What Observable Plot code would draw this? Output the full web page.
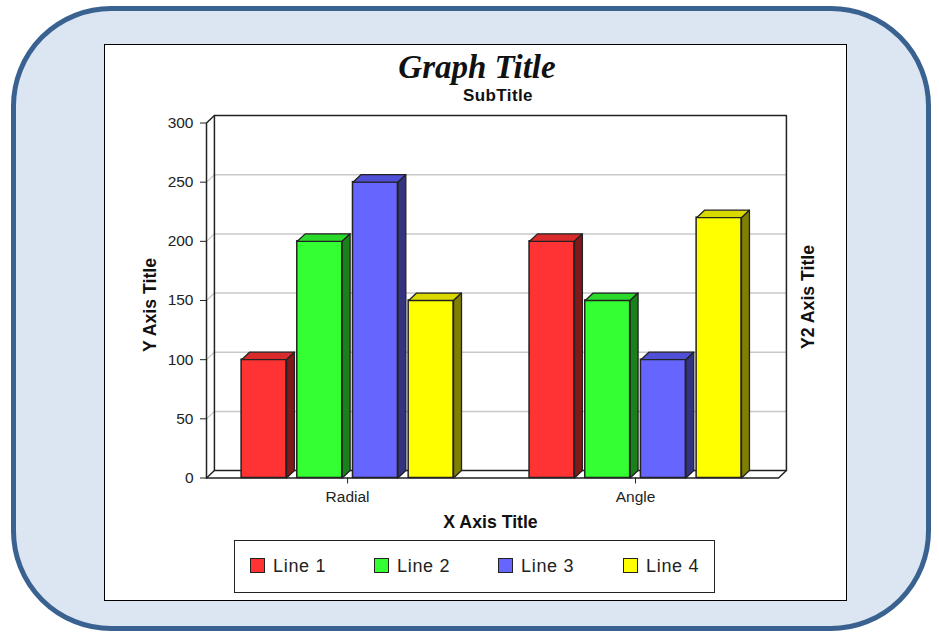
<!DOCTYPE html>
<html>
<head>
<meta charset="utf-8">
<script src="https://cdn.jsdelivr.net/npm/d3@7"></script>
<script src="https://cdn.jsdelivr.net/npm/@observablehq/plot@0.6"></script>
<style>
  html, body { margin: 0; padding: 0; background: #fff; }
  #page { position: relative; width: 939px; height: 633px; overflow: hidden; font-family: "Liberation Sans", Arial, sans-serif; }
  #outer { position: absolute; left: 11px; top: 6px; width: 910px; height: 615px; background: #dce6f2; border: 5px solid #3a6291; border-radius: 100px; }
  #box { position: absolute; left: 104px; top: 44px; width: 741px; height: 555px; background: #fff; border: 1.5px solid #000; }
  #chart { position: absolute; left: 0; top: 0; }
  #chart svg { background: transparent; }
  #title { position: absolute; left: 0; width: 954px; top: 48px; text-align: center; font: italic bold 33px "Liberation Serif", "Times New Roman", serif; color: #111; line-height: 38px; }
  #subtitle { position: absolute; left: 463px; top: 86px; font: bold 17px "Liberation Sans", Arial, sans-serif; color: #111; line-height: 20px; letter-spacing: 0.4px; }
  #legend { position: absolute; left: 234px; top: 540px; width: 479px; height: 51px; border: 1.5px solid #222; background: #fff; }
  .sw { position: absolute; top: 17px; width: 13px; height: 13px; border: 1.5px solid #222; }
  .lb { position: absolute; top: 15px; font-size: 18px; line-height: 21px; color: #222; letter-spacing: 0.7px; }
</style>
</head>
<body>
<div id="page">
  <div id="outer"></div>
  <div id="box"></div>
  <div id="chart"></div>
  <div id="title"></div>
  <div id="subtitle"></div>
  <div id="legend"></div>
</div>
<script>
const titleText = "Graph Title";
const subtitleText = "SubTitle";
const xAxisTitle = "X Axis Title";
const yAxisTitle = "Y Axis Title";
const y2AxisTitle = "Y2 Axis Title";

const categories = ["Radial", "Angle"];
const seriesNames = ["Line 1", "Line 2", "Line 3", "Line 4"];
const line1 = [100, 200];
const line2 = [200, 150];
const line3 = [250, 100];
const line4 = [150, 220];
const seriesValues = [line1, line2, line3, line4];
const frontColors = ["#ff3333", "#33ff33", "#6666ff", "#ffff00"];
const topColors = ["#d92b2b", "#2bd92b", "#5050d6", "#d9d900"];
const sideColors = ["#801a1a", "#1a801a", "#333380", "#808000"];
const yTicks = [0, 50, 100, 150, 200, 250, 300];

// Chart geometry in scale units
const xDomain = [-0.49, 1.4965];
const barStep = 0.1934;
const barWidth = 0.156;
const depthX = 0.0275;
const depthY = 6.3;

const bars = [];
categories.forEach((c, g) => {
  seriesNames.forEach((s, i) => {
    const centre = g + (i - 1.5) * barStep;
    bars.push({
      id: c + s, value: seriesValues[i][g],
      x1: centre - barWidth / 2, x2: centre + barWidth / 2,
      front: frontColors[i], top: topColors[i], side: sideColors[i]
    });
  });
});
const topFace = bars.flatMap(b => [
  {id: b.id, x: b.x1, y: b.value, c: b.top},
  {id: b.id, x: b.x2, y: b.value, c: b.top},
  {id: b.id, x: b.x2 + depthX, y: b.value + depthY, c: b.top},
  {id: b.id, x: b.x1 + depthX, y: b.value + depthY, c: b.top}
]);
const sideFace = bars.flatMap(b => [
  {id: b.id, x: b.x2, y: 0, c: b.side},
  {id: b.id, x: b.x2 + depthX, y: depthY, c: b.side},
  {id: b.id, x: b.x2 + depthX, y: b.value + depthY, c: b.side},
  {id: b.id, x: b.x2, y: b.value, c: b.side}
]);

const [x0, x1] = xDomain;
const yMax = yTicks[yTicks.length - 1];
const grid = yTicks.slice(1, -1);
const diagonals = yTicks.flatMap(t => [
  {id: t, x: x0, y: t}, {id: t, x: x0 + depthX, y: t + depthY}
]);
const frameDark = "#222";
const wallLines = [
  [[x0 + depthX, depthY], [x0 + depthX, yMax + depthY], [x1 + depthX, yMax + depthY], [x1 + depthX, depthY], [x0 + depthX, depthY]],
  [[x0, 0], [x1, 0], [x1 + depthX, depthY]],
  [[x0, 0], [x0, yMax], [x0 + depthX, yMax + depthY]],
  [[x0, 0], [x0 + depthX, depthY]]
].flatMap((pts, k) => pts.map(([x, y]) => ({id: k, x, y})));

const titleStyle = {text: d => d, fontSize: 17.7, fontWeight: "bold", fill: "#111", textAnchor: "middle", lineAnchor: "middle"};

const chart = Plot.plot({
  width: 939,
  height: 633,
  marginLeft: 206,
  marginRight: 161,
  marginTop: 122.5,
  marginBottom: 155.5,
  style: {fontFamily: "Liberation Sans, Arial, sans-serif", background: "transparent", color: "#222"},
  x: {domain: xDomain, axis: null},
  y: {domain: [0, yMax], axis: null},
  color: {type: "identity"},
  marks: [
    Plot.ruleY(grid, {y: d => d + depthY, x1: x0 + depthX, x2: x1 + depthX, stroke: "#c8c8c8", strokeWidth: 1.5}),
    Plot.line(diagonals.filter(d => d.id !== 0 && d.id !== yMax), {x: "x", y: "y", z: "id", stroke: "#c8c8c8", strokeWidth: 1.2}),
    Plot.line(wallLines, {x: "x", y: "y", z: "id", stroke: frameDark, strokeWidth: 1.5}),
    Plot.axisY({ticks: yTicks, tickSize: 6, tickPadding: 7, fontSize: 15.5, label: null}),
    Plot.axisX({ticks: [0, 1], tickSize: 6, tickPadding: 7, fontSize: 15.5, label: null, tickFormat: i => categories[i]}),
    Plot.text([yAxisTitle], {...titleStyle, frameAnchor: "left", rotate: -90, dx: -56.5, dy: 4.5}),
    Plot.text([y2AxisTitle], {...titleStyle, frameAnchor: "right", rotate: -90, dx: 30, dy: -3.5}),
    Plot.text([xAxisTitle], {...titleStyle, frameAnchor: "bottom", dx: -2, dy: 44.5}),
    Plot.rect(bars, {x1: "x1", x2: "x2", y1: 0, y2: "value", fill: "front", stroke: frameDark, strokeWidth: 1.5}),
    Plot.line(topFace, {x: "x", y: "y", z: "id", fill: "c", stroke: frameDark, strokeWidth: 1.3, curve: "linear-closed"}),
    Plot.line(sideFace, {x: "x", y: "y", z: "id", fill: "c", stroke: frameDark, strokeWidth: 1.3, curve: "linear-closed"})
  ]
});
document.getElementById("chart").appendChild(chart);

document.getElementById("title").textContent = titleText;
document.getElementById("subtitle").textContent = subtitleText;
const legend = document.getElementById("legend");
const legendLeft = [15, 139, 263, 388];
seriesNames.forEach((s, i) => {
  const sw = document.createElement("div");
  sw.className = "sw";
  sw.style.left = legendLeft[i] + "px";
  sw.style.background = frontColors[i];
  legend.appendChild(sw);
  const lb = document.createElement("div");
  lb.className = "lb";
  lb.style.left = (legendLeft[i] + 23) + "px";
  lb.textContent = s;
  legend.appendChild(lb);
});
</script>
</body>
</html>
